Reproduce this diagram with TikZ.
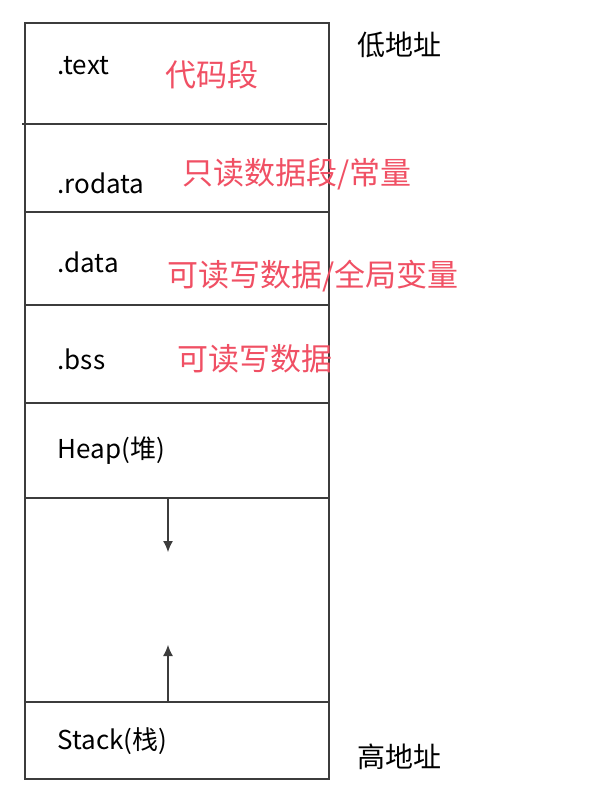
\documentclass[tikz,border=0pt]{standalone}
\usepackage{fontspec}
\setmainfont{Noto Sans CJK SC}
\usetikzlibrary{arrows.meta}
\definecolor{segred}{RGB}{240,80,100}
\definecolor{linegray}{RGB}{60,60,60}

\begin{document}
\begin{tikzpicture}[x=1pt, y=-1pt, line width=1.1pt,
  every node/.style={inner sep=0pt, anchor=west},
  seg/.style={font=\fontsize{26}{26}\selectfont},
  note/.style={font=\fontsize{31}{31}\selectfont, text=segred},
  addr/.style={font=\fontsize{28}{28}\selectfont}]
\useasboundingbox (0,0) rectangle (608,798);
%memory column
\draw[linegray] (25,23) rectangle (329,779);
\draw[linegray] (22,124) -- (327,124);
\foreach \y in {212,305,403,498,702}{
	\draw[linegray] (25,\y) -- (329,\y);
}
%segment names
\node[seg] (text) at (57,66) {.text};
\node[seg] (rodata) at (57,183) {.rodata};
\node[seg] (data) at (57,262) {.data};
\node[seg] (bss) at (57,359) {.bss};
\node[seg] (heap) at (57,451) {Heap(堆)};
\node[seg] (stack) at (57,741) {Stack(栈)};
%notes
\node[note] (textnote) at (165,75) {代码段};
\node[note] (rodatanote) at (182,174) {只读数据段/常量};
\node[note] (datanote) at (167,276) {可读写数据/全局变量};
\node[note] (bssnote) at (177,359) {可读写数据};
%addresses
\node[addr] (low) at (357,45) {低地址};
\node[addr] (high) at (357,757) {高地址};
%growth arrows
\coordinate (heapend) at (168,498);
\coordinate (heapgrow) at (168,552);
\coordinate (stackend) at (168,702);
\coordinate (stackgrow) at (168,645);
\draw[linegray, -{Latex[length=11pt,width=10pt]}] (heapend) -- (heapgrow);
\draw[linegray, -{Latex[length=11pt,width=10pt]}] (stackend) -- (stackgrow);
\end{tikzpicture}
\end{document}
